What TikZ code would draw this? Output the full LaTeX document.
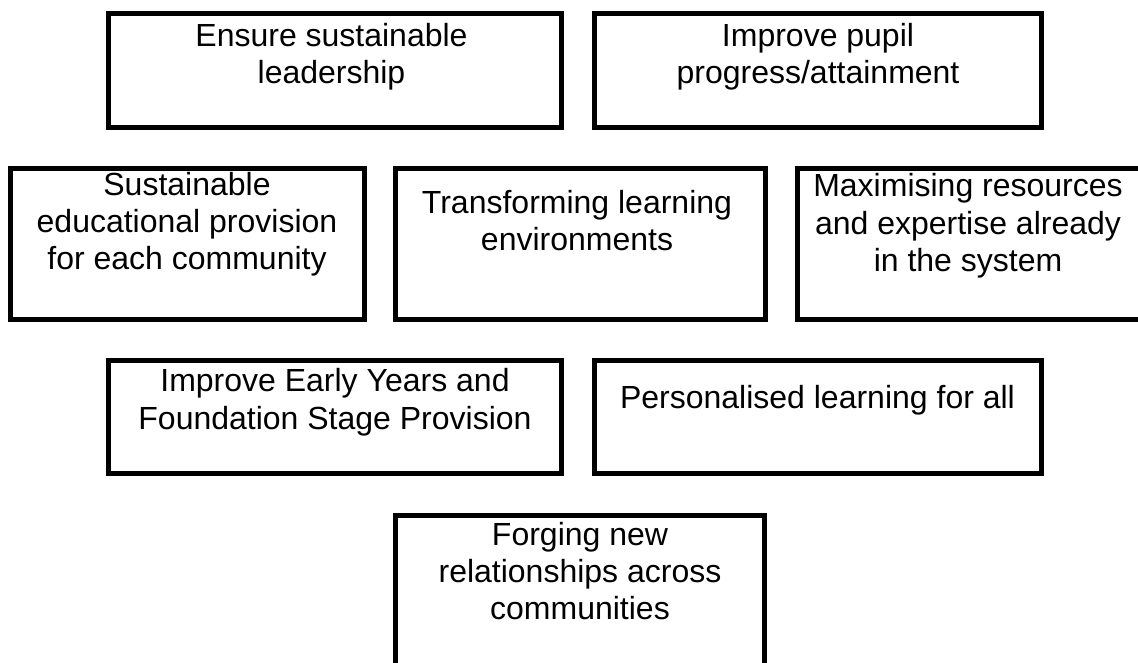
\documentclass[tikz,border=0pt]{standalone}
\usepackage{fontspec}
\setmainfont{Liberation Sans}
\begin{document}
\begin{tikzpicture}[x=0.75pt,y=-0.75pt,
  box/.style={draw=black,line width=3.75pt,rectangle,inner sep=0pt,fill=none},
  txt/.style={anchor=base,inner sep=0pt,font=\fontsize{24}{28}\selectfont}]
\useasboundingbox (0,0) rectangle (1138,662);
\clip (0,0) rectangle (1138,662);
% boxes
\node[box,minimum width=339.75pt,minimum height=85.5pt] (A) at (335,70.5) {};
\node[box,minimum width=335.25pt,minimum height=85.5pt] (B) at (818,70.5) {};
\node[box,minimum width=265.5pt,minimum height=113.25pt] (C) at (187.5,244) {};
\node[box,minimum width=277.5pt,minimum height=113.25pt] (D) at (580.5,244) {};
\node[box,minimum width=258.375pt,minimum height=113.25pt] (E) at (969.75,244) {};
\node[box,minimum width=339.75pt,minimum height=84.75pt] (F) at (335,417) {};
\node[box,minimum width=335.25pt,minimum height=84.75pt] (G) at (818,417) {};
\node[box,minimum width=276.75pt,minimum height=115.875pt] (H) at (580,592.75) {};
% texts
\node[txt] (tA) at (331.5,46) {\begin{tabular}[t]{@{}c@{}}Ensure sustainable\\leadership\end{tabular}};
\node[txt] (tB) at (818,46) {\begin{tabular}[t]{@{}c@{}}Improve pupil\\progress/attainment\end{tabular}};
\node[txt] (tC) at (187,195) {\begin{tabular}[t]{@{}c@{}}Sustainable\\educational provision\\for each community\end{tabular}};
\node[txt] (tD) at (577,213.3) {\begin{tabular}[t]{@{}c@{}}Transforming learning\\environments\end{tabular}};
\node[txt] (tE) at (968,196.7) {\begin{tabular}[t]{@{}c@{}}Maximising resources\\and expertise already\\in the system\end{tabular}};
\node[txt] (tF) at (335,391.7) {\begin{tabular}[t]{@{}c@{}}Improve Early Years and\\Foundation Stage Provision\end{tabular}};
\node[txt] (tG) at (817.5,408.3) {Personalised learning for all};
\node[txt] (tH) at (580,545) {\begin{tabular}[t]{@{}c@{}}Forging new\\relationships across\\communities\end{tabular}};
\end{tikzpicture}
\end{document}
